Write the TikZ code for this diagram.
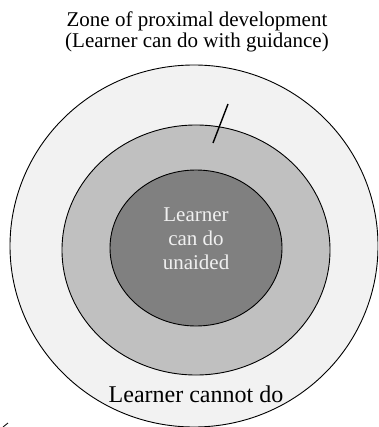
\documentclass[tikz,border=0pt]{standalone}
\usepackage{fontspec}
\setmainfont{Liberation Serif}
\begin{document}
\begin{tikzpicture}[x=1pt,y=-1pt,
  ring/.style={draw=black,line width=0.9pt},
  lbl/.style={font=\fontsize{21}{24}\selectfont,align=center,inner sep=0pt}]
\useasboundingbox (0,0) rectangle (378,427);
\clip (0,0) rectangle (378,427);
\fill[white] (0,0) rectangle (378,427);
\draw[ring,fill={rgb,255:red,242;green,242;blue,242}] (194,246) ellipse [x radius=184, y radius=181];
\draw[ring,fill={rgb,255:red,192;green,192;blue,192}] (196,250) ellipse [x radius=134, y radius=125];
\draw[ring,fill={rgb,255:red,128;green,128;blue,128}] (196,248) ellipse [x radius=86, y radius=78];
\node[lbl,anchor=base] (t1) at (197,27) {Zone of proximal development};
\node[lbl,anchor=base] (t2) at (197,48) {(Learner can do with guidance)};
\node[lbl,text={rgb,255:red,240;green,240;blue,240},anchor=base] (in1) at (196,221) {Learner};
\node[lbl,text={rgb,255:red,240;green,240;blue,240},anchor=base] (in2) at (196,245) {can do};
\node[lbl,text={rgb,255:red,240;green,240;blue,240},anchor=base] (in3) at (196,269) {unaided};
\node[lbl,font=\fontsize{24}{28}\selectfont,anchor=base] (out) at (196,402) {Learner cannot do};
\coordinate (pa) at (213,143);
\coordinate (pb) at (228,104);
\draw[line width=1.4pt] (pa) -- (pb);
\coordinate (ma) at (3,427);
\coordinate (mb) at (8,423);
\draw[line width=0.8pt] (ma) -- (mb);
\end{tikzpicture}
\end{document}
